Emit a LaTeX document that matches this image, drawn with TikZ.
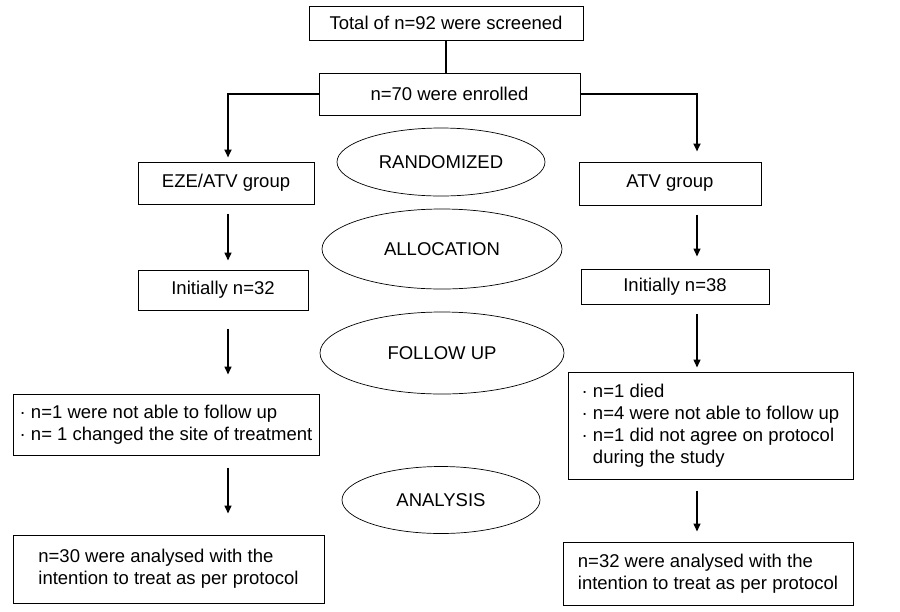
\documentclass[tikz,border=0pt]{standalone}
\usepackage{fontspec}
\setmainfont{Liberation Sans}
\usetikzlibrary{arrows.meta,shapes.geometric}

\begin{document}
\begin{tikzpicture}[x=1pt,y=-1pt,
  font=\fontsize{18.5}{22}\selectfont,
  box/.style={draw=black, line width=1pt, align=left, inner sep=0pt},
  stage/.style={draw=black, ellipse, line width=0.7pt, inner sep=0pt},
  arr/.style={line width=1.5pt, -{Triangle[length=8pt,width=7pt]}}]
\useasboundingbox (0,0) rectangle (900,611);
\node[box, minimum width=274pt, minimum height=34pt] (screen) at (446,23) {Total of n=92 were screened};
\node[box, minimum width=261pt, minimum height=42pt] (enrol) at (449.5,94) {n=70 were enrolled};
\node[box, minimum width=176pt, minimum height=42pt] (ezeg) at (226,183) {EZE/ATV group};
\node[box, minimum width=182pt, minimum height=43pt] (atvg) at (670,183.5) {ATV group};
\node[box, minimum width=170pt, minimum height=40pt] (init32) at (223,290) {Initially n=32};
\node[box, minimum width=188pt, minimum height=35pt] (init38) at (675,286.5) {Initially n=38};
\node[box, minimum width=306pt, minimum height=61pt] (lost32) at (166,424.5) {· n=1 were not able to follow up\\· n= 1 changed the site of treatment};
\node[box, minimum width=285pt, minimum height=107pt] (lost38) at (710.5,425.5) {· n=1 died\\· n=4 were not able to follow up\\· n=1 did not agree on protocol\\\hphantom{·\ }during the study};
\node[box, minimum width=311pt, minimum height=68pt] (final32) at (168.5,569) {n=30 were analysed with the\\intention to treat as per protocol};
\node[box, minimum width=290pt, minimum height=63pt] (final38) at (708,573.5) {n=32 were analysed with the\\intention to treat as per protocol};
% stages
\node[stage, minimum width=208pt, minimum height=68pt] (rand) at (441,162) {RANDOMIZED};
\node[stage, minimum width=240pt, minimum height=80pt] (alloc) at (442,249) {ALLOCATION};
\node[stage, minimum width=244pt, minimum height=82pt] (follow) at (442,353) {FOLLOW UP};
\node[stage, minimum width=198pt, minimum height=67pt] (anal) at (441,500) {ANALYSIS};
% arrows
\coordinate (colL) at (228,0);
\coordinate (colR) at (697,0);
\draw[line width=1.5pt] (screen.south) -- (screen.south |- enrol.north);
\draw[arr, line width=2.2pt, shorten >=4pt] (enrol.west) -| (ezeg.north -| colL);
\draw[arr, line width=2.2pt, shorten >=10pt] (enrol.east) -| (atvg.north -| colR);
\draw[arr, shorten <=9pt, shorten >=9pt] (ezeg.south -| colL) -- (init32.north -| colL);
\draw[arr, shorten <=18pt, shorten >=19pt] (init32.south -| colL) -- (lost32.north -| colL);
\draw[arr, shorten <=12pt, shorten >=21pt] (lost32.south -| colL) -- (final32.north -| colL);
\draw[arr, shorten <=9pt, shorten >=12pt] (atvg.south -| colR) -- (init38.north -| colR);
\draw[arr, shorten <=9pt, shorten >=4pt] (init38.south -| colR) -- (lost38.north -| colR);
\draw[arr, shorten <=11pt, shorten >=10pt] (lost38.south -| colR) -- (final38.north -| colR);
\end{tikzpicture}
\end{document}
